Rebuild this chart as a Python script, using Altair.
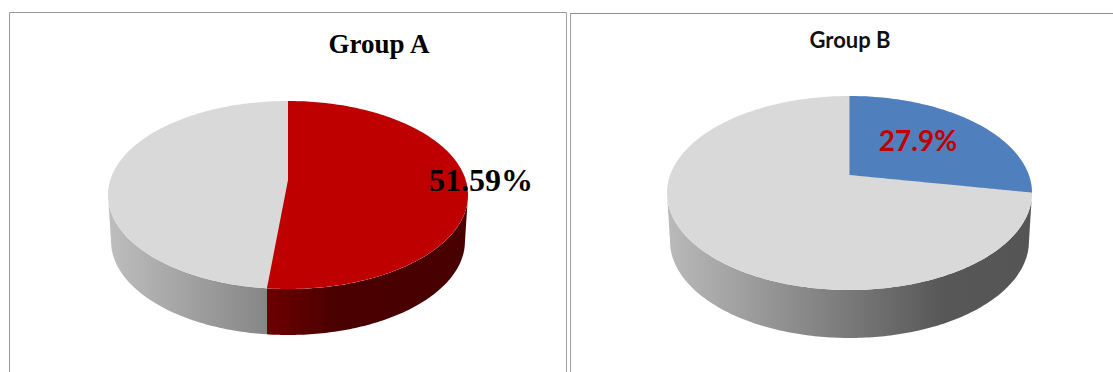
import math
import altair as alt
import pandas as pd

W, H = 1113, 372

# Values shown on the two pies, in percent
groups = ["Group A", "Group B"]
shares = [51.59, 27.9]
share_labels = ["51.59%", "27.9%"]

# Outline of each tilted disc: left, right, top, bottom of the face, hub height, rim depth
discs = [
    dict(left=108, right=468, top=101, bottom=289, hub=180, depth=46, inset=3),
    dict(left=667, right=1032, top=96, bottom=290, hub=175, depth=48, inset=3),
]

FACE_GREY = "#d9d9d9"
WEDGE_COLOURS = ["#bf0000", "#4f7fbc"]


def gradient(*stops):
    return alt.Gradient(
        gradient="linear",
        stops=[alt.GradientStop(color=c, offset=o) for c, o in stops],
        x1=0, x2=1, y1=0, y2=0,
    )


RIM_REST = [
    gradient(("#bebebe", 0), ("#868686", 1)),
    gradient(("#bababa", 0), ("#575757", 0.76), ("#555555", 1)),
]
RIM_WEDGE = gradient(("#6c0000", 0), ("#4a0000", 0.35), ("#480000", 1))


class Disc:
    def __init__(self, left, right, top, bottom, hub, depth, inset):
        self.cx = (left + right) / 2
        self.cy = (top + bottom) / 2
        self.rx = (right - left) / 2
        self.ry = (bottom - top) / 2
        self.hub = hub
        self.depth = depth
        self.inset = inset
        # Perspective strength from how far the hub sits above the face centre
        near, far = bottom - hub, hub - top
        self.k = (near - far) / (near + far)
        self.b = near * (1 - self.k)
        self.a = self.rx * math.sqrt(1 - self.k ** 2)

    def rim_point(self, share):
        """Where a wedge of this share, clockwise from twelve o'clock, meets the edge."""
        t = 2 * math.pi * share / 100
        u, v = math.sin(t), -math.cos(t)
        den = 1 - self.k * v
        return self.cx + self.a * u / den, self.hub + self.b * v / den

    def half_height(self, x):
        d = (x - self.cx) / self.rx
        return self.ry * math.sqrt(max(0.0, 1 - d * d))

    def upper(self, x):
        return self.cy - self.half_height(x)

    def lower(self, x):
        return self.cy + self.half_height(x)

    def xs(self, extra=()):
        grid = [self.cx + self.rx * math.sin(math.radians(d)) for d in range(-90, 91)]
        return sorted(set(grid) | set(extra))

    def spoke(self, x, end):
        ex, ey = end
        return self.hub + (ey - self.hub) * (x - self.cx) / (ex - self.cx)

    def outer_rim(self, x):
        """Lower edge of the rim, slightly narrower than the face."""
        r = self.rx - self.inset
        d = abs(x - self.cx)
        base = self.cy + self.depth
        if d <= r:
            return base + self.ry * math.sqrt(max(0.0, 1 - (d / r) ** 2))
        return base + (self.cy - base) * (d - r) / self.inset


x_scale = alt.Scale(domain=[0, W], nice=False, zero=False)
y_scale = alt.Scale(domain=[H, 0], nice=False, zero=False)


def area(rows, fill):
    # Rows sharing an x stay in the order given, which makes the step at the seam
    return (
        alt.Chart(pd.DataFrame(rows, columns=["x", "y", "y2"]))
        .mark_area(color=fill, orient="vertical")
        .encode(
            x=alt.X("x:Q", scale=x_scale, axis=None),
            y=alt.Y("y:Q", scale=y_scale, axis=None),
            y2="y2:Q",
        )
    )


def pie_layers(disc, share, wedge_colour, rim_rest, rim_wedge):
    end = disc.rim_point(share)
    ex, ey = end
    xs = disc.xs([ex, disc.cx])
    layers = []

    # Rim: the wedge only shows on it once its end reaches the front half
    if ey > disc.cy:
        rest = [(x, disc.lower(x), disc.outer_rim(x)) for x in xs if x <= ex]
        front = [(x, disc.lower(x), disc.outer_rim(x)) for x in xs if x >= ex]
        layers += [area(rest, rim_rest), area(front, rim_wedge)]
    else:
        layers.append(area([(x, disc.lower(x), disc.outer_rim(x)) for x in xs], rim_rest))

    # Whole face
    layers.append(area([(x, disc.upper(x), disc.lower(x)) for x in xs], FACE_GREY))

    # Wedge on the face
    rows = []
    if ey > disc.cy and ex < disc.cx:
        rows += [(x, disc.spoke(x, end), disc.lower(x)) for x in xs if ex <= x < disc.cx]
        rows.append((disc.cx, disc.hub, disc.lower(disc.cx)))
        rows += [(x, disc.upper(x), disc.lower(x)) for x in xs if x >= disc.cx]
    else:
        rows += [
            (x, disc.upper(x), disc.spoke(x, end) if x > disc.cx else disc.hub)
            for x in xs if disc.cx <= x <= ex
        ]
    layers.append(area(rows, wedge_colour))
    return layers


def rule(x, x2, y, y2, colour):
    return (
        alt.Chart(pd.DataFrame({"x": [x], "x2": [x2], "y": [y], "y2": [y2]}))
        .mark_rule(color=colour, strokeWidth=1)
        .encode(
            x=alt.X("x:Q", scale=x_scale, axis=None),
            x2="x2:Q",
            y=alt.Y("y:Q", scale=y_scale, axis=None),
            y2="y2:Q",
        )
    )


def text(label, x, y, size, font, colour):
    return (
        alt.Chart(pd.DataFrame({"x": [x], "y": [y], "t": [label]}))
        .mark_text(font=font, fontSize=size, fontWeight="bold", color=colour, align="center", baseline="middle")
        .encode(
            x=alt.X("x:Q", scale=x_scale, axis=None),
            y=alt.Y("y:Q", scale=y_scale, axis=None),
            text="t:N",
        )
    )


layers = [
    # Panel frames
    rule(9.5, 9.5, 12.5, 372, "#9a9a9a"),
    rule(9.5, 566.5, 12.5, 12.5, "#9a9a9a"),
    rule(566.5, 566.5, 12.5, 372, "#a0a0a0"),
    rule(570.5, 570.5, 13.5, 372, "#a0a0a0"),
    rule(570.5, 1113, 13.5, 13.5, "#8e8e8e"),
]

models = [Disc(**d) for d in discs]
for i, model in enumerate(models):
    layers += pie_layers(model, shares[i], WEDGE_COLOURS[i], RIM_REST[i], RIM_WEDGE)

layers += [
    text(groups[0], 379, 45, 27, "Liberation Serif", "#000000"),
    text(groups[1], 850, 41, 22, "Lato", "#111111"),
    text(share_labels[0], 481, 181, 32, "Liberation Serif", "#000000"),
    text(share_labels[1], 918, 143, 28, "Lato", "#c00000"),
]

chart = (
    alt.layer(*layers)
    .properties(
        width=W,
        height=H,
        padding=0,
        background="white",
        autosize=alt.AutoSizeParams(type="none"),
    )
    .configure_view(stroke=None)
)

chart.save("out.html", embed_options={"renderer": "svg", "actions": False})
